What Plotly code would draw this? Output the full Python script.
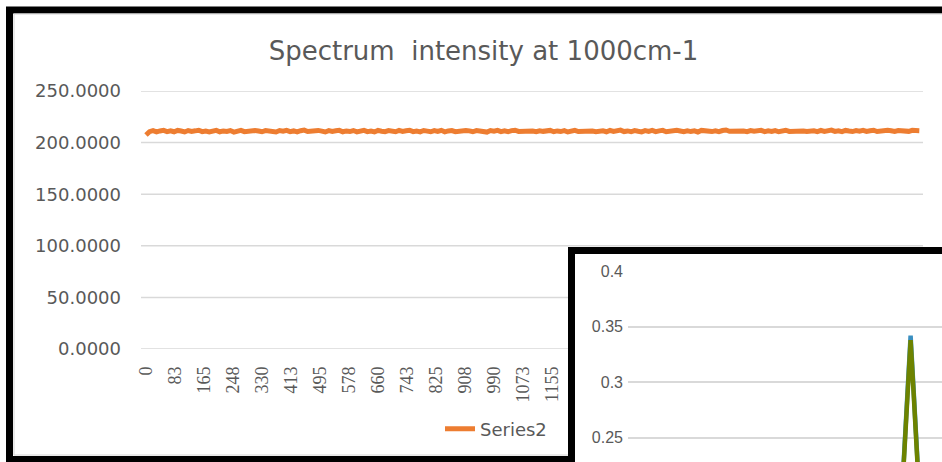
import plotly.graph_objects as go

W, H = 942, 462

# ---------------- data ----------------
title_text = "Spectrum  intensity at 1000cm-1"
series_name = "Series2"

# main series (intensity at 1000 cm-1 per frame)
orange_x = list(range(0, 2211, 10))
orange_y = [
    207.4, 210.6, 211.6, 210.4, 211.3, 211.9, 210.7, 211.5, 210.5, 211.8,
    211.2, 210.3, 211.7, 210.9, 211.4, 212.0, 210.6, 211.2, 210.4, 211.6,
    211.9, 210.5, 211.3, 210.8, 211.7, 210.2, 211.5, 211.9, 210.6, 211.1,
    210.4, 211.8, 211.2, 210.5, 211.6, 210.9, 211.4, 210.3, 211.7, 211.0,
    211.9, 210.6, 211.3, 210.4, 211.5, 212.1, 210.7, 211.2, 210.5, 211.8,
    211.1, 210.3, 211.6, 210.8, 211.4, 211.9, 210.5, 211.3, 210.7, 211.7,
    210.4, 211.5, 211.9, 210.6, 211.2, 210.3, 211.8, 211.0, 210.6, 211.6,
    211.3, 210.5, 211.8, 210.9, 211.5, 212.0, 210.6, 211.2, 210.4, 211.7,
    211.1, 210.5, 211.6, 210.8, 211.9, 210.4, 211.3, 211.7, 210.6, 211.2,
    210.7, 211.8, 211.4, 210.5, 211.6, 210.9, 211.3, 210.2, 211.7, 211.1,
    211.9, 210.6, 211.4, 210.5, 211.6, 212.0, 210.8, 211.2, 210.4, 211.8,
    211.2, 210.6, 211.5, 210.9, 211.4, 211.8, 210.5, 211.3, 210.7, 211.6,
    210.3, 211.5, 211.9, 210.7, 211.1, 210.4, 211.7, 211.2, 210.6, 211.5,
    211.4, 210.5, 211.8, 210.8, 211.6, 212.1, 210.7, 211.3, 210.5, 211.7,
    211.0, 210.4, 211.6, 210.9, 211.8, 210.6, 211.4, 211.9, 210.5, 211.2,
    210.8, 211.9, 211.3, 210.6, 211.5, 210.7, 211.4, 210.3, 211.8, 211.2,
    211.8, 210.7, 211.5, 210.6, 211.7, 212.2, 210.9, 211.3, 210.5, 211.9,
    211.3, 210.6, 211.7, 211.0, 211.5, 211.9, 210.6, 211.4, 210.8, 211.7,
    210.5, 211.6, 212.0, 210.8, 211.2, 210.5, 211.8, 211.3, 210.7, 211.6,
    211.5, 210.6, 211.9, 210.9, 211.7, 212.1, 210.8, 211.4, 210.6, 211.8,
    211.2, 210.7, 211.7, 211.0, 211.9, 210.8, 211.5, 212.0, 210.7, 211.4,
    211.0, 211.9, 211.5, 210.8, 211.7, 211.1, 211.6, 210.9, 211.9, 211.4,
    211.6,
]
main_y_ticks = [0, 50, 100, 150, 200, 250]
main_x_labels = ["0", "83", "165", "248", "330", "413", "495", "578",
                 "660", "743", "825", "908", "990", "1073", "1155"]

# inset spectra around the peak
inset_x = [86, 87, 88, 89, 90, 91, 92, 93, 94]
inset_blue = [0.135, 0.188, 0.240, 0.291, 0.342, 0.291, 0.240, 0.188, 0.135]
inset_green = [0.134, 0.186, 0.238, 0.288, 0.338, 0.288, 0.238, 0.186, 0.134]
inset_y_ticks = [0.25, 0.3, 0.35, 0.4]

# ---------------- helpers ----------------
def px(x):
    return x / W

def py(y):
    return 1 - y / H

GRAY_TXT = "#595959"
GRID = "#d9d9d9"
ORANGE = "#ED7D31"

fig = go.Figure()

fig.add_trace(go.Scatter(
    x=orange_x, y=orange_y, mode="lines", name=series_name,
    line=dict(color=ORANGE, width=5), xaxis="x", yaxis="y",
    showlegend=True,
))
fig.add_trace(go.Scatter(
    x=inset_x, y=inset_blue, mode="lines", name="inset A",
    line=dict(color="#3a8fc0", width=4.5), xaxis="x2", yaxis="y2",
    showlegend=False,
))
fig.add_trace(go.Scatter(
    x=inset_x, y=inset_green, mode="lines", name="inset B",
    line=dict(color="#6d8300", width=4.5), xaxis="x2", yaxis="y2",
    showlegend=False,
))

main_left, main_right = 141, 923
main_top, main_bottom = 91, 349
inset_left_frame, inset_top_frame = 571.5, 250.5

shapes = []
# main chart frame
shapes.append(dict(type="rect", xref="paper", yref="paper",
                   x0=px(9.5), x1=px(990), y0=py(459.5), y1=py(10),
                   line=dict(color="black", width=7), fillcolor="white",
                   layer="below"))
shapes.append(dict(type="rect", xref="paper", yref="paper",
                   x0=px(14), x1=px(990), y0=py(455), y1=py(14),
                   line=dict(color="#d4d4d4", width=1), layer="below"))
# main horizontal gridlines (partly hidden behind the inset)
for v in main_y_ticks:
    ypix = main_bottom - (v - 0) / 250 * (main_bottom - main_top)
    x_end = main_right if ypix < 247 else 568
    shapes.append(dict(type="line", xref="paper", yref="y",
                       x0=px(main_left), x1=px(x_end), y0=v, y1=v,
                       line=dict(color=GRID, width=1.5), layer="below"))
# inset frame
shapes.append(dict(type="rect", xref="paper", yref="paper",
                   x0=px(inset_left_frame), x1=px(1000),
                   y0=py(520), y1=py(inset_top_frame),
                   line=dict(color="black", width=7), fillcolor="white",
                   layer="below"))

fig.update_layout(
    width=W, height=H,
    autosize=False,
    margin=dict(l=0, r=0, t=0, b=0, pad=0),
    paper_bgcolor="white",
    plot_bgcolor="rgba(0,0,0,0)",
    shapes=shapes,
    title=dict(text=title_text, x=px(483.5), y=py(51),
               xanchor="center", yanchor="middle", xref="paper", yref="paper",
               automargin=False,
               font=dict(family="DejaVu Sans", size=26, color=GRAY_TXT)),
    xaxis=dict(domain=[px(main_left), px(main_right)],
               range=[-14.2, 2210.5], showgrid=False, zeroline=False,
               showline=False, ticks="", automargin=False,
               tickvals=[int(t) for t in main_x_labels], ticktext=main_x_labels,
               tickangle=-90, ticklabelstandoff=13,
               tickfont=dict(family="Liberation Serif", size=18, color=GRAY_TXT),
               anchor="y"),
    yaxis=dict(domain=[py(main_bottom), py(main_top)],
               range=[0, 250], showgrid=False, zeroline=False, showline=False,
               ticks="", tickvals=main_y_ticks, automargin=False,
               ticktext=[f"{v:.4f}" for v in main_y_ticks],
               ticklabelstandoff=19,
               tickfont=dict(family="DejaVu Sans", size=18, color=GRAY_TXT),
               anchor="x"),
    xaxis2=dict(domain=[px(628), 1], range=[0, 100], showgrid=False,
                zeroline=False, showline=False, showticklabels=False,
                ticks="", anchor="y2", automargin=False),
    yaxis2=dict(domain=[0, py(271)], range=[0.2279, 0.4005],
                showgrid=True, gridcolor=GRID, gridwidth=1.5,
                zeroline=False, showline=False, ticks="", automargin=False,
                tickvals=inset_y_ticks,
                ticktext=[f"{v:g}" for v in inset_y_ticks],
                ticklabelstandoff=4,
                tickfont=dict(family="Liberation Sans", size=16, color=GRAY_TXT),
                anchor="x2"),
    legend=dict(x=px(440), y=py(429), xanchor="left", yanchor="middle",
                bgcolor="rgba(0,0,0,0)",
                font=dict(family="DejaVu Sans", size=18, color=GRAY_TXT)),
    showlegend=True,
)

fig.write_html("out.html")
